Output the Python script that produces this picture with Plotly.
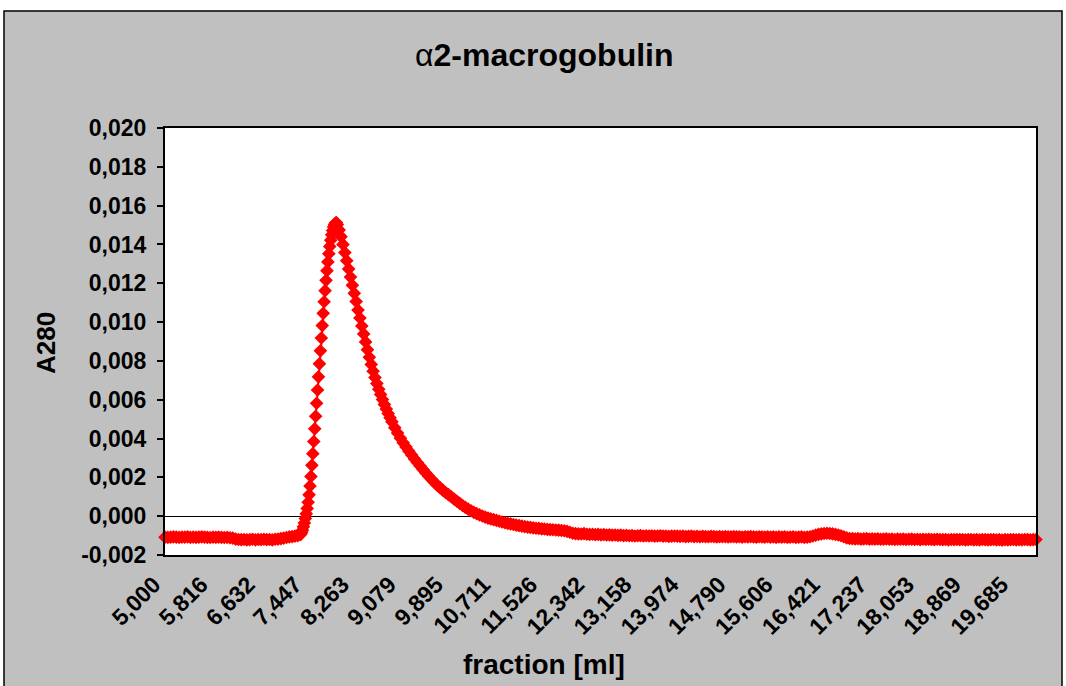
import numpy as np
import plotly.graph_objects as go

# Elution volume between two successive absorbance readings (ml)
DX = 0.016314
FIRST_FRACTION = 5.000

# A280 readings, stored per section of the run as (first reading index, stride, values)
base_first, base_stride = 0, 3
base_a280 = [
    -0.00108, -0.00109, -0.00108, -0.00107, -0.00108, -0.00109, -0.00108, -0.00108, -0.00107, -0.00109,
    -0.00108, -0.00109, -0.00108, -0.00107, -0.00108, -0.00109, -0.00110, -0.00108, -0.00109, -0.00108,
    -0.00109, -0.00110, -0.00109, -0.00111, -0.00113,
    -0.00118, -0.00120, -0.00121, -0.00120, -0.00122, -0.00121, -0.00119, -0.00122, -0.00120, -0.00121,
    -0.00119, -0.00121, -0.00120, -0.00122, -0.00119, -0.00118, -0.00116, -0.00113, -0.00110,
    -0.00107, -0.00105, -0.00103, -0.00100,
]

rise_first, rise_stride = 144, 1
rise_a280 = [
    -0.00095, -0.00085, -0.00072, -0.00055, -0.00035, -0.00012, 0.00012, 0.00040, 0.00072, 0.00110,
    0.00155, 0.00205, 0.00262, 0.00322, 0.00385, 0.00450, 0.00515, 0.00582, 0.00650, 0.00718,
    0.00785, 0.00852, 0.00918, 0.00982, 0.01045, 0.01105, 0.01162, 0.01215, 0.01265, 0.01310,
    0.01352, 0.01390, 0.01422, 0.01450, 0.01472, 0.01490, 0.01503, 0.01510, 0.01513,
]

fall_first, fall_stride = 183, 2
fall_a280 = [
    0.01503, 0.01475, 0.01440, 0.01400, 0.01358, 0.01316, 0.01274, 0.01232, 0.01190, 0.01148,
    0.01106, 0.01062, 0.01021, 0.00980, 0.00939, 0.00898, 0.00858, 0.00819, 0.00782, 0.00747,
    0.00714, 0.00683, 0.00654, 0.00627, 0.00601, 0.00576, 0.00552, 0.00529, 0.00507, 0.00486,
]

tail_first, tail_stride = 244, 3
tail_a280 = [
    0.00456, 0.00428, 0.00402, 0.00378, 0.00356, 0.00335, 0.00315, 0.00295, 0.00276, 0.00258,
    0.00240, 0.00223, 0.00206, 0.00190, 0.00175, 0.00160, 0.00147, 0.00134, 0.00122, 0.00111,
    0.00100, 0.00088, 0.00077, 0.00066, 0.00055, 0.00045, 0.00036, 0.00028, 0.00020, 0.00013,
    0.00007, 0.00001, -0.00005, -0.00010, -0.00014, -0.00018, -0.00022, -0.00026, -0.00030, -0.00034,
    -0.00037, -0.00040, -0.00043, -0.00046, -0.00049, -0.00051, -0.00054, -0.00056, -0.00058, -0.00060,
    -0.00062, -0.00063, -0.00065, -0.00066, -0.00068, -0.00069, -0.00070, -0.00071, -0.00072, -0.00074,
    -0.00075, -0.00078, -0.00083, -0.00088, -0.00090, -0.00091, -0.00092, -0.00090, -0.00093, -0.00094,
    -0.00093, -0.00095, -0.00094, -0.00096, -0.00095, -0.00097, -0.00096, -0.00098, -0.00097, -0.00099,
    -0.00098, -0.00100, -0.00099, -0.00101, -0.00100, -0.00102, -0.00101, -0.00100, -0.00102, -0.00101,
    -0.00102, -0.00101, -0.00103, -0.00102, -0.00101, -0.00103, -0.00102, -0.00104, -0.00103, -0.00102,
    -0.00103, -0.00104, -0.00103, -0.00105, -0.00104, -0.00103, -0.00105, -0.00104, -0.00106, -0.00104,
    -0.00105, -0.00106, -0.00104, -0.00105, -0.00107, -0.00105, -0.00106, -0.00105, -0.00107, -0.00106,
    -0.00105, -0.00107, -0.00106, -0.00108, -0.00106, -0.00107, -0.00105, -0.00107, -0.00108, -0.00106,
    -0.00107, -0.00108, -0.00106, -0.00108, -0.00107, -0.00109, -0.00107, -0.00108, -0.00107, -0.00109,
    -0.00108, -0.00107, -0.00109, -0.00108, -0.00107, -0.00109, -0.00108, -0.00106, -0.00102, -0.00098,
    -0.00094, -0.00091, -0.00089, -0.00088, -0.00089, -0.00091, -0.00094, -0.00097, -0.00101, -0.00106,
    -0.00112, -0.00115, -0.00116, -0.00117, -0.00116, -0.00118, -0.00117, -0.00116, -0.00118, -0.00117,
    -0.00118, -0.00117, -0.00119, -0.00118, -0.00117, -0.00119, -0.00118, -0.00120, -0.00118, -0.00119,
    -0.00118, -0.00120, -0.00119, -0.00118, -0.00120, -0.00119, -0.00121, -0.00119, -0.00120, -0.00119,
    -0.00120, -0.00121, -0.00119, -0.00120, -0.00121, -0.00120, -0.00122, -0.00120, -0.00121, -0.00120,
    -0.00121, -0.00120, -0.00122, -0.00121, -0.00120, -0.00122, -0.00121, -0.00122, -0.00120, -0.00121,
    -0.00122, -0.00121, -0.00120, -0.00122, -0.00121, -0.00123, -0.00121, -0.00122, -0.00121, -0.00120,
    -0.00122, -0.00121, -0.00122, -0.00120, -0.00121, -0.00122, -0.00121, -0.00120,
]

x_tick_labels = ["5,000", "5,816", "6,632", "7,447", "8,263", "9,079", "9,895", "10,711",
                 "11,526", "12,342", "13,158", "13,974", "14,790", "15,606", "16,421",
                 "17,237", "18,053", "18,869", "19,685"]
y_tick_labels = ["-0,002", "0,000", "0,002", "0,004", "0,006", "0,008", "0,010",
                 "0,012", "0,014", "0,016", "0,018", "0,020"]


def section(first, stride, values):
    idx = first + stride * np.arange(len(values))
    return FIRST_FRACTION + DX * idx, np.asarray(values)


parts = [section(base_first, base_stride, base_a280),
         section(rise_first, rise_stride, rise_a280),
         section(fall_first, fall_stride, fall_a280),
         section(tail_first, tail_stride, tail_a280)]
fraction = np.concatenate([p[0] for p in parts])
a280 = np.concatenate([p[1] for p in parts])

x_tick_vals = [float(s.replace(",", ".")) for s in x_tick_labels]
y_tick_vals = [float(s.replace(",", ".")) for s in y_tick_labels]

FONT = "Liberation Sans, Arial, sans-serif"
RED = "#FF0000"

fig = go.Figure()
fig.add_trace(go.Scatter(
    x=fraction, y=a280, mode="lines+markers",
    line=dict(color=RED, width=2),
    marker=dict(symbol="diamond", size=10.5, color=RED, line=dict(width=0)),
    cliponaxis=False, hoverinfo="x+y",
))

# plot-area geometry in pixels
L, R, T, B = 165, 1036, 128, 555
W, H = R - L, B - T


def px_x(p):
    return (p - L) / W


def px_y(p):
    return (B - p) / H


fig.update_layout(
    width=1066, height=686, autosize=False,
    margin=dict(l=L, r=1066 - R, t=T, b=686 - B),
    paper_bgcolor="white", plot_bgcolor="rgba(0,0,0,0)",
    showlegend=False,
    font=dict(family=FONT, color="black"),
    shapes=[
        dict(type="rect", xref="paper", yref="paper", layer="below",
             x0=px_x(4), x1=px_x(1062), y0=px_y(700), y1=px_y(11),
             fillcolor="#C0C0C0", line=dict(color="black", width=1.5)),
        dict(type="rect", xref="paper", yref="paper", layer="below",
             x0=0, x1=1, y0=0, y1=1, fillcolor="white", line=dict(width=0)),
    ],
    annotations=[
        dict(text="α<b>2-macrogobulin</b>", xref="paper", yref="paper",
             x=px_x(544), y=px_y(55), xanchor="center", yanchor="middle", showarrow=False,
             font=dict(family=FONT, size=32, color="black")),
        dict(text="<b>A280</b>", xref="paper", yref="paper", textangle=-90,
             x=px_x(46), y=px_y(343), xanchor="center", yanchor="middle", showarrow=False,
             font=dict(family=FONT, size=26, color="black")),
        dict(text="<b>fraction [ml]</b>", xref="paper", yref="paper",
             x=px_x(544), y=px_y(664), xanchor="center", yanchor="middle", showarrow=False,
             font=dict(family=FONT, size=28, color="black")),
    ],
)

fig.update_xaxes(
    range=[fraction[0], fraction[-1]],
    showgrid=False, zeroline=False,
    showline=True, mirror=True, linecolor="black", linewidth=2,
    ticks="", tickvals=x_tick_vals, ticktext=x_tick_labels, tickangle=-45,
    ticklabelshift=-11, ticklabelstandoff=5,
    tickfont=dict(family=FONT, size=23, color="black", weight="bold"),
)
fig.update_yaxes(
    range=[-0.002, 0.020],
    showgrid=False,
    zeroline=True, zerolinecolor="black", zerolinewidth=1,
    showline=True, mirror=True, linecolor="black", linewidth=2,
    ticks="outside", ticklen=6, tickwidth=1.5, tickcolor="black",
    ticklabelstandoff=6,
    tickvals=y_tick_vals, ticktext=y_tick_labels,
    tickfont=dict(family=FONT, size=23, color="black", weight="bold"),
)

fig.write_html("out.html")
